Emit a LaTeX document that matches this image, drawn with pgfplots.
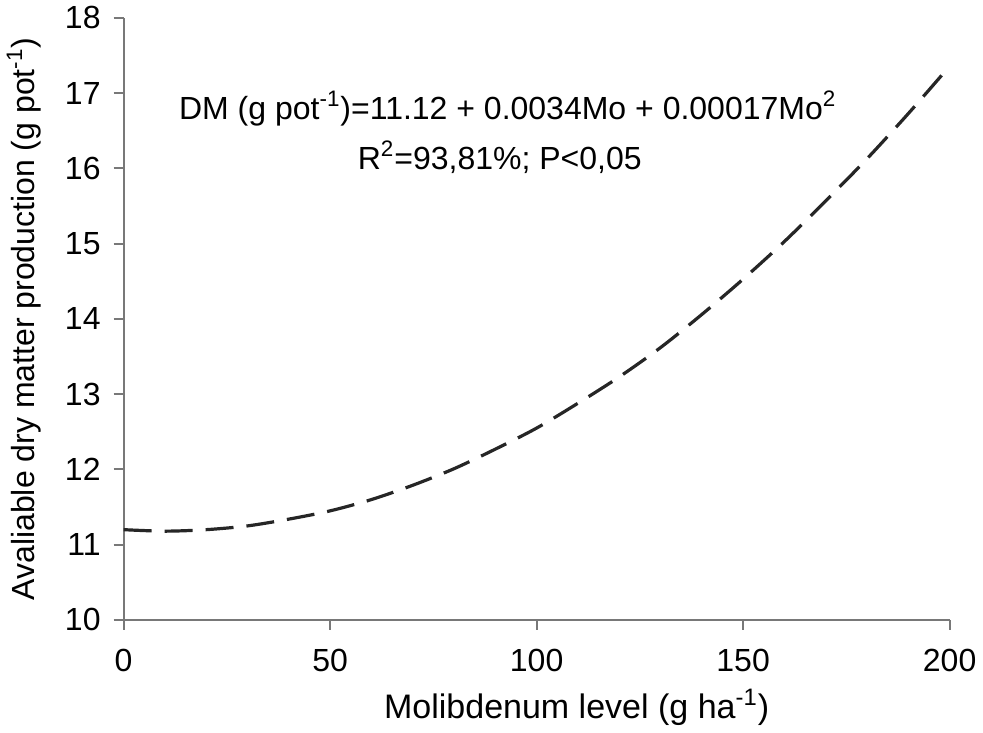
\documentclass[border=0pt]{standalone}
\usepackage{pgfplots}
\pgfplotsset{compat=1.18}
\usepackage{fontspec}
\setmainfont{Liberation Sans}

\pgfplotstableread{
x     y
0     11.20
10    11.18
20    11.20
30    11.25
40    11.34
50    11.45
60    11.60
70    11.79
80    12.01
90    12.27
100   12.55
110   12.88
120   13.23
130   13.62
140   14.06
150   14.53
160   15.03
170   15.57
180   16.13
190   16.73
200   17.36
}\dmdata

\definecolor{axisgray}{RGB}{120,120,120}

\begin{document}
\begin{tikzpicture}
\begin{axis}[
    scale only axis,
    width=413pt, height=301pt,
    xmin=0, xmax=200, ymin=10, ymax=18,
    xtick={0,50,...,200}, ytick={10,11,...,18},
    axis x line=bottom, axis y line=left,
    axis line style={axisgray, line width=1pt, -},
    tick style={axisgray, line width=1pt},
    tick align=outside, major tick length=5pt,
    tick label style={font=\fontsize{16}{19}\selectfont},
    /pgf/number format/assume math mode=true,
    xticklabel style={yshift=-6pt},
    yticklabel style={xshift=-3pt},
    xlabel={Molibdenum level (g ha\textsuperscript{-1})},
    ylabel={Avaliable dry matter production (g pot\textsuperscript{-1})},
    xlabel style={font=\fontsize{17}{20}\selectfont, yshift=-2pt, xshift=20pt},
    ylabel style={font=\fontsize{16}{19}\selectfont, yshift=5pt},
    clip=false,
]
\addplot[black!85, line width=1.6pt, dash pattern=on 14pt off 6.5pt, smooth]
    table[x=x, y=y] {\dmdata};
\node[font=\fontsize{16}{19}\selectfont, align=center] at (axis cs:93,16.48)
    {DM (g pot\textsuperscript{-1})=11.12 + 0.0034Mo + 0.00017Mo\textsuperscript{2}\\[6pt]
     \hspace*{-8pt}R\textsuperscript{2}=93,81\%; P<0,05};
\end{axis}
\end{tikzpicture}
\end{document}
